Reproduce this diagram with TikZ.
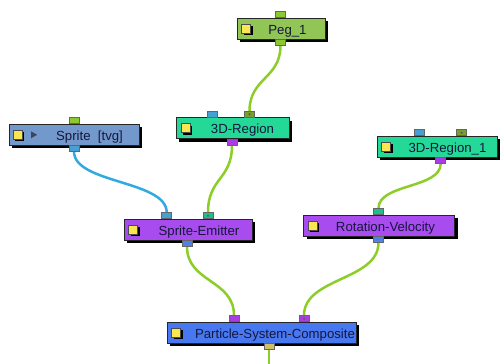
\documentclass[tikz,border=0pt]{standalone}
\usepackage{fontspec}
\setmainfont{Liberation Sans}
\usetikzlibrary{shadows}
\definecolor{pegfill}{RGB}{145,197,85}
\definecolor{spritefill}{RGB}{115,153,204}
\definecolor{regionfill}{RGB}{36,216,152}
\definecolor{purplefill}{RGB}{168,76,240}
\definecolor{compfill}{RGB}{72,120,240}
\definecolor{txt}{RGB}{22,22,60}
\definecolor{iconyellow}{RGB}{250,230,80}
\definecolor{playgray}{RGB}{60,70,95}
\definecolor{pgreen}{RGB}{140,200,50}
\definecolor{polive}{RGB}{120,160,40}
\definecolor{pblue}{RGB}{70,160,210}
\definecolor{ppurple}{RGB}{170,60,230}
\definecolor{pteal}{RGB}{30,190,140}
\definecolor{pperi}{RGB}{80,130,230}
\definecolor{ptan}{RGB}{210,190,100}
\definecolor{wiregreen}{RGB}{140,205,40}
\definecolor{wireblue}{RGB}{50,170,225}
\pgfdeclarelayer{bg}
\pgfdeclarelayer{paper}
\pgfsetlayers{paper,bg,main}
\begin{document}
\begin{tikzpicture}[x=1pt,y=-1pt,
  nodebox/.style={draw=black!85, line width=0.8pt, inner sep=0pt, minimum height=21pt,
    drop shadow={shadow xshift=3pt,shadow yshift=-3pt,fill=black,opacity=1}},
  nodetext/.style={inner sep=0pt, anchor=base, text=txt, font=\fontsize{13.2}{15}\selectfont},
  icon/.style={draw=black!70, line width=0.6pt, fill=iconyellow, minimum size=9pt, inner sep=0pt,
    drop shadow={shadow xshift=2pt,shadow yshift=-2pt,fill=black,opacity=1}},
  port/.style={draw=black!60, line width=0.6pt, minimum width=10pt, minimum height=6pt, inner sep=0pt},
  dotport/.style={port, path picture={\fill[black!65] (path picture bounding box.center) circle (1.2pt);}},
  wire/.style={line width=2.5pt, draw=wiregreen},
  bluewire/.style={line width=2.5pt, draw=wireblue}]
\useasboundingbox (0,0) rectangle (504,364);
\begin{pgfonlayer}{paper}
\fill[white] (0,0) rectangle (504,364);
\end{pgfonlayer}

% Peg_1
\node[nodebox, fill=pegfill, minimum width=88pt] (peg) at (281,28.5) {};
\node[icon] (pegI) at (246.2,28.5) {};
\node[nodetext] (pegT) at (287.5,34.2) {Peg\_1};
\node[port, fill=pgreen, anchor=south] (pegIn) at (280.5,18) {};
\node[port, fill=pgreen, anchor=north] (pegOut) at (280.5,39) {};

% Sprite [tvg]
\node[nodebox, fill=spritefill, minimum width=130pt] (spr) at (74,134.5) {};
\node[icon] (sprI) at (17.8,134.5) {};
\fill[playgray] (31,131.3) -- (37.2,134.8) -- (31,138.3) -- cycle;
\node[nodetext] (sprT) at (89.5,140.2) {Sprite~~[tvg]};
\node[port, fill=pgreen, anchor=south] (sprIn) at (74,124) {};
\node[port, fill=pblue, anchor=north] (sprOut) at (74,145) {};

% 3D-Region
\node[nodebox, fill=regionfill, minimum width=113pt] (reg) at (232.5,128) {};
\node[icon] (regI) at (185.5,128) {};
\node[nodetext] (regT) at (242.5,133.7) {3D-Region};
\node[port, fill=pblue, anchor=south] (regInA) at (212.5,117.5) {};
\node[dotport, fill=polive, anchor=south] (regInB) at (249.5,117.5) {};
\node[port, fill=ppurple, anchor=north] (regOut) at (232,138.5) {};

% 3D-Region_1
\node[nodebox, fill=regionfill, minimum width=120pt] (regb) at (437,146.5) {};
\node[icon] (regbI) at (386,146.5) {};
\node[nodetext] (regbT) at (447.5,152.2) {3D-Region\_1};
\node[port, fill=pblue, anchor=south] (regbInA) at (419,136) {};
\node[dotport, fill=polive, anchor=south] (regbInB) at (461.7,136) {};
\node[port, fill=ppurple, anchor=north] (regbOut) at (440.7,157) {};

% Sprite-Emitter
\node[nodebox, fill=purplefill, minimum width=128pt] (emit) at (188,229.5) {};
\node[icon] (emitI) at (133,229.5) {};
\node[nodetext] (emitT) at (199,235.2) {Sprite-Emitter};
\node[port, fill=pblue, anchor=south] (emitInA) at (166.7,219) {};
\node[dotport, fill=pteal, anchor=south] (emitInB) at (208,219) {};
\node[port, fill=pperi, anchor=north] (emitOut) at (187,240) {};

% Rotation-Velocity
\node[nodebox, fill=purplefill, minimum width=151pt] (rot) at (379,225.5) {};
\node[icon] (rotI) at (312.5,225.5) {};
\node[nodetext] (rotT) at (385.5,231.2) {Rotation-Velocity};
\node[port, fill=pteal, anchor=south] (rotIn) at (378.5,215) {};
\node[port, fill=pperi, anchor=north] (rotOut) at (378.5,236) {};

% Particle-System-Composite
\node[nodebox, fill=compfill, minimum width=189pt] (comp) at (261.5,332.5) {};
\node[icon] (compI) at (176,332.5) {};
\node[nodetext] (compT) at (275,338.2) {Particle-System-Composite};
\node[port, fill=ppurple, anchor=south] (compInA) at (234,322) {};
\node[dotport, fill=ppurple, anchor=south] (compInB) at (304,322) {};
\node[port, fill=ptan, anchor=north] (compOut) at (269,343) {};
\coordinate (compEnd) at (269,366);

\begin{pgfonlayer}{bg}
\draw[wire] (pegOut.south) .. controls +(0,33) and +(0,-33) .. (regInB.north);
\draw[bluewire] (sprOut.south) .. controls +(0,32) and +(0,-32) .. (emitInA.north);
\draw[wire] (regOut.south) .. controls +(0,35) and +(0,-35) .. (emitInB.north);
\draw[wire] (regbOut.south) .. controls +(0,25) and +(0,-25) .. (rotIn.north);
\draw[wire] (emitOut.south) .. controls +(0,36) and +(0,-36) .. (compInA.north);
\draw[wire] (rotOut.south) .. controls +(0,38) and +(0,-38) .. (compInB.north);
\draw[wire] (compOut.south) -- (compEnd);
\end{pgfonlayer}
\end{tikzpicture}
\end{document}
